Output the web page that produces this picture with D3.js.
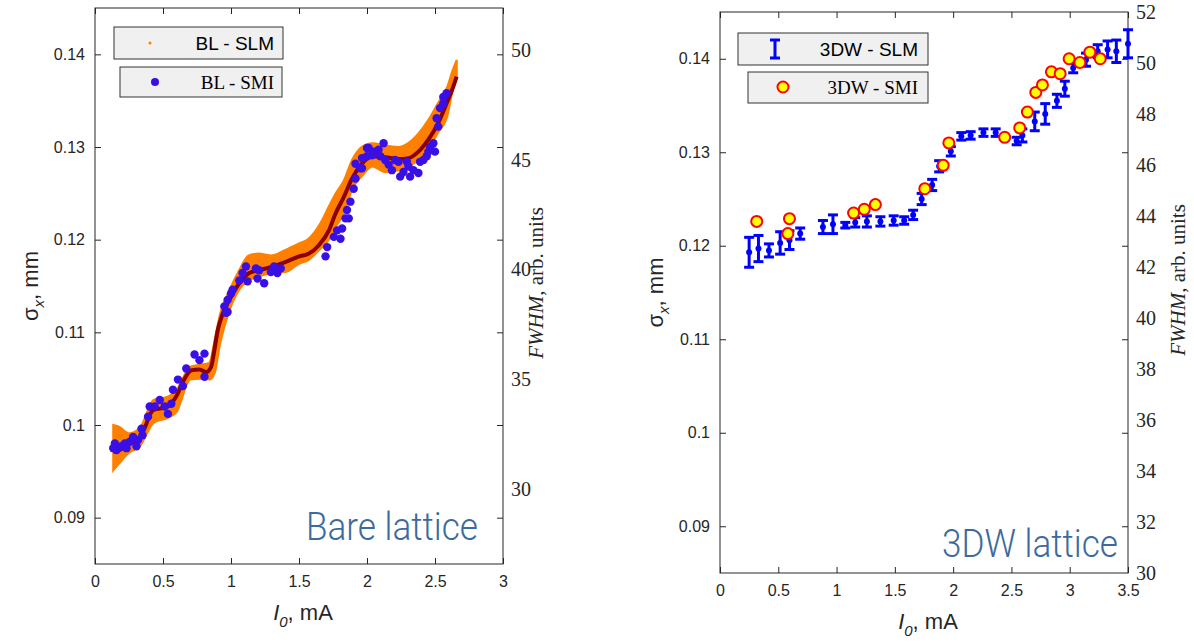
<!DOCTYPE html>
<html>
<head>
<meta charset="utf-8">
<script src="https://cdn.jsdelivr.net/npm/d3@7"></script>
<style>
  body { margin: 0; background: #fff; }
  svg { display: block; }
  .tick text { fill: #262626; }
</style>
</head>
<body>
<div id="chart"></div>
<script>
// ---- left panel: bare lattice ----
// SLM band (orange): x, upper and lower edge of the cloud
const slmX  = [0.134,0.18,0.25,0.33,0.43,0.54,0.6,0.7,0.77,0.84,0.88,0.92,0.99,1.06,1.13,1.2,1.3,1.4,1.5,1.57,1.65,1.72,1.77,1.83,1.89,1.96,2.04,2.13,2.23,2.3,2.38,2.45,2.52,2.59,2.63,2.66];
const slmHi = [0.1000,0.0998,0.0991,0.0997,0.1027,0.1031,0.1038,0.1063,0.1065,0.1067,0.1092,0.1120,0.1146,0.1167,0.1183,0.1185,0.1183,0.1189,0.1196,0.1201,0.1216,0.1236,0.1250,0.1264,0.1286,0.1300,0.1304,0.1302,0.1300,0.1304,0.1315,0.1329,0.1347,0.1365,0.1383,0.1394];
const slmLo = [0.0951,0.0959,0.0970,0.0977,0.1002,0.1008,0.1014,0.1049,0.1050,0.1049,0.1056,0.1088,0.1124,0.1146,0.1156,0.1160,0.1164,0.1165,0.1174,0.1178,0.1189,0.1200,0.1214,0.1228,0.1254,0.1268,0.1279,0.1273,0.1275,0.1279,0.1286,0.1297,0.1315,0.1333,0.1361,0.1376];

// fitted curve (dark red)
const fitX = [0.134,0.183,0.256,0.33,0.354,0.427,0.488,0.537,0.598,0.659,0.707,0.768,0.817,0.854,0.878,0.902,0.939,0.988,1.061,1.134,1.207,1.305,1.403,1.5,1.573,1.646,1.72,1.768,1.829,1.89,1.963,2.036,2.134,2.232,2.305,2.378,2.451,2.524,2.585,2.634,2.659];
const fitY = [0.0971,0.0973,0.0980,0.0987,0.0993,0.1016,0.1018,0.1020,0.1031,0.1050,0.1059,0.1060,0.1057,0.1063,0.1081,0.1102,0.1120,0.1135,0.1153,0.1164,0.1167,0.1171,0.1176,0.1182,0.1185,0.1194,0.1210,0.1228,0.1246,0.1266,0.1282,0.1290,0.1289,0.1287,0.1288,0.1295,0.1308,0.1326,0.1347,0.1365,0.1376];

// SMI points (blue)
const smiX = [0.134,0.146,0.159,0.195,0.22,0.232,0.256,0.28,0.305,0.317,0.342,0.349,0.39,0.402,0.439,0.476,0.512,0.536,0.561,0.573,0.61,0.646,0.671,0.732,0.768,0.805,0.805,0.951,0.964,0.975,0.975,1.0,1.012,1.061,1.085,1.11,1.122,1.183,1.195,1.207,1.244,1.293,1.317,1.341,1.366,1.695,1.707,1.756,1.78,1.805,1.817,1.842,1.853,1.866,1.878,1.902,1.915,1.915,1.951,1.963,1.963,2.0,2.0,2.012,2.036,2.049,2.085,2.098,2.122,2.134,2.159,2.183,2.207,2.232,2.244,2.268,2.293,2.305,2.317,2.341,2.378,2.39,2.415,2.439,2.451,2.464,2.488,2.5,2.512,2.524,2.537,2.561,2.561,2.585];
const smiY = [0.0975,0.0980,0.0973,0.0977,0.0980,0.0975,0.0982,0.0987,0.0977,0.0984,0.0996,0.0989,0.1009,0.1020,0.1020,0.1027,0.1020,0.1012,0.1023,0.1038,0.1049,0.1042,0.1061,0.1076,0.1070,0.1077,0.1052,0.1128,0.1121,0.1122,0.1135,0.1142,0.1146,0.1156,0.1164,0.1171,0.1155,0.1169,0.1158,0.1167,0.1153,0.1165,0.1171,0.1164,0.1169,0.1182,0.1192,0.1203,0.1210,0.1201,0.1212,0.1223,0.1232,0.1223,0.1241,0.1255,0.1266,0.1282,0.1277,0.1288,0.1277,0.1299,0.1290,0.1299,0.1291,0.1295,0.1297,0.1290,0.1304,0.1286,0.1281,0.1275,0.1286,0.1284,0.1268,0.1273,0.1284,0.1279,0.1268,0.1275,0.1272,0.1284,0.1286,0.1290,0.1295,0.1300,0.1304,0.1295,0.1331,0.1322,0.1342,0.1347,0.1354,0.1358];

const xTicksL = [0,0.5,1,1.5,2,2.5,3];
const yTicks = [0.09,0.1,0.11,0.12,0.13,0.14];
const fwhmTicksL = [30,35,40,45,50];

// ---- right panel: 3DW lattice ----
const slm3X = [0.25,0.33,0.42,0.516,0.596,0.688,0.883,0.969,1.075,1.16,1.26,1.376,1.49,1.58,1.657,1.73,1.82,1.88,1.98,2.07,2.15,2.26,2.365,2.545,2.594,2.70,2.79,2.89,2.958,3.03,3.14,3.24,3.325,3.40,3.5];
const slm3Y = [0.1193,0.1197,0.1195,0.1203,0.1206,0.1213,0.1220,0.1223,0.1222,0.1225,0.1226,0.1226,0.1227,0.1227,0.1233,0.1250,0.1265,0.1285,0.1301,0.1317,0.1318,0.1321,0.1321,0.1312,0.1318,0.1333,0.1341,0.1355,0.1368,0.1390,0.1399,0.1408,0.1410,0.1408,0.1416];
const slm3E = [0.0016,0.0014,0.0007,0.0012,0.0010,0.0006,0.0007,0.0010,0.0003,0.0005,0.0006,0.0005,0.0005,0.0004,0.0005,0.0006,0.0006,0.0006,0.0005,0.0004,0.0004,0.0004,0.0004,0.0004,0.0007,0.0010,0.0011,0.0007,0.0008,0.0005,0.0007,0.0007,0.0009,0.0012,0.0015];

const smi3X = [0.315,0.596,0.582,1.146,1.238,1.333,1.757,1.915,1.963,2.442,2.571,2.637,2.709,2.766,2.843,2.918,2.995,3.087,3.173,3.262];
const smi3Y = [0.1226,0.1229,0.1213,0.1235,0.1239,0.1244,0.1261,0.1286,0.1310,0.1316,0.1326,0.1343,0.1364,0.1372,0.1386,0.1384,0.1400,0.1396,0.1407,0.1400];

const xTicksR = [0,0.5,1,1.5,2,2.5,3,3.5];
const fwhmTicksR = [30,32,34,36,38,40,42,44,46,48,50,52];

const w = 1194, h = 644;
const sans = "'Liberation Sans', Arial, sans-serif";
const serif = "'Liberation Serif', 'Times New Roman', serif";
const axisCol = "#262626";

let svg = d3.select("#chart").append("svg").attr("width", w).attr("height", h);

function panel(o) {
    let x = d3.scaleLinear().domain(o.xDom).range([o.left, o.right]);
    let y = d3.scaleLinear().domain([0.085, 0.145]).range([o.bottom, o.top]);
    let y2 = d3.scaleLinear().domain(o.fDom).range([o.bottom, o.top]);
    let g = svg.append("g");
    let fmt = d3.format("~g");

    // bottom + top ticks
    let bx = g.append("g").attr("transform", `translate(0,${o.bottom})`)
        .call(d3.axisBottom(x).tickValues(o.xTicks).tickSize(-6).tickSizeOuter(0).tickPadding(12).tickFormat(fmt));
    g.append("g").attr("transform", `translate(0,${o.top})`)
        .call(d3.axisTop(x).tickValues(o.xTicks).tickSize(-6).tickSizeOuter(0).tickFormat(""));
    // left axis and mirrored ticks
    let ly = g.append("g").attr("transform", `translate(${o.left},0)`)
        .call(d3.axisLeft(y).tickValues(yTicks).tickSize(-6).tickSizeOuter(0).tickPadding(10).tickFormat(fmt));
    g.append("g").attr("transform", `translate(${o.right},0)`)
        .call(d3.axisRight(y).tickValues(yTicks).tickSize(-6).tickSizeOuter(0).tickFormat(""));
    // right FWHM axis labels
    let ry = g.append("g").attr("transform", `translate(${o.right},0)`)
        .call(d3.axisRight(y2).tickValues(o.fTicks).tickSize(0).tickSizeOuter(0).tickPadding(8));
    ry.selectAll("text").style("font-family", serif).style("font-size", "20px");

    [bx, ly].forEach(a => a.selectAll("text").style("font-family", sans).style("font-size", "16px"));
    g.selectAll(".domain").remove();
    g.selectAll(".tick line").attr("stroke", axisCol);

    g.append("rect").attr("x", o.left).attr("y", o.top)
        .attr("width", o.right - o.left).attr("height", o.bottom - o.top)
        .attr("fill", "none").attr("stroke", axisCol).attr("stroke-width", 1);

    // axis titles
    let xl = g.append("text").attr("x", (o.left + o.right) / 2 + 4).attr("y", o.bottom + 56)
        .attr("text-anchor", "middle").style("font-family", sans).style("font-size", "22px").attr("fill", axisCol);
    xl.append("tspan").style("font-style", "italic").text("I");
    xl.append("tspan").style("font-style", "italic").style("font-size", "15px").attr("dy", 7).text("0");
    xl.append("tspan").attr("dy", -7).text(", mA");

    let yl = g.append("text").attr("transform", `translate(${o.left - 57},${(o.top + o.bottom) / 2}) rotate(-90)`)
        .attr("text-anchor", "middle").style("font-family", sans).style("font-size", "22px").attr("fill", axisCol);
    yl.append("tspan").text("σ");
    yl.append("tspan").style("font-size", "15px").style("font-style", "italic").attr("dy", 6).text("x");
    yl.append("tspan").attr("dy", -6).text(", mm");

    let fl = g.append("text").attr("transform", `translate(${o.right + o.fOff},${o.fMid}) rotate(-90)`)
        .attr("text-anchor", "middle").style("font-family", serif).style("font-size", "21px").attr("fill", axisCol);
    fl.append("tspan").style("font-style", "italic").text("FWHM");
    fl.append("tspan").text(",  arb. units");

    return {g, x, y};
}

// ---------- left ----------
let L = panel({left: 95, right: 503, top: 8, bottom: 564, xDom: [0, 3], xTicks: xTicksL,
    fDom: [26.58, 51.91], fTicks: fwhmTicksL, fOff: 40, fMid: 283});

L.g.append("path")
    .datum(slmX.map((d, i) => [d, slmHi[i], slmLo[i]]))
    .attr("fill", "#ff8000")
    .attr("stroke", "#ff8000").attr("stroke-width", 2)
    .attr("d", d3.area().curve(d3.curveMonotoneX)
        .x(d => L.x(d[0])).y0(d => L.y(d[2])).y1(d => L.y(d[1])));

L.g.append("path")
    .datum(fitX.map((d, i) => [d, fitY[i]]))
    .attr("fill", "none").attr("stroke", "#8c0000").attr("stroke-width", 4)
    .attr("d", d3.line().curve(d3.curveMonotoneX).x(d => L.x(d[0])).y(d => L.y(d[1])));

L.g.append("g").selectAll("circle")
    .data(smiX.map((d, i) => [d, smiY[i]]))
    .enter().append("circle")
    .attr("cx", d => L.x(d[0])).attr("cy", d => L.y(d[1])).attr("r", 4.2)
    .attr("fill", "#3a0fe6");

// legend
function legBox(x0, y0, bw, bh) {
    svg.append("rect").attr("x", x0).attr("y", y0).attr("width", bw).attr("height", bh)
        .attr("fill", "#f0f0f0").attr("stroke", "#333").attr("stroke-width", 1);
}
legBox(114, 27, 169, 32);
svg.append("circle").attr("cx", 150).attr("cy", 43).attr("r", 1.5).attr("fill", "#ff8000");
svg.append("text").attr("x", 274).attr("y", 50).attr("text-anchor", "end")
    .style("font-family", sans).style("font-size", "19px").text("BL - SLM");
legBox(120, 67, 162, 30);
svg.append("circle").attr("cx", 155).attr("cy", 82).attr("r", 4).attr("fill", "#3a0fe6");
svg.append("text").attr("x", 274).attr("y", 89).attr("text-anchor", "end")
    .style("font-family", serif).style("font-size", "19px").text("BL - SMI");

svg.append("text").attr("x", 306).attr("y", 540)
    .attr("textLength", 172).attr("lengthAdjust", "spacingAndGlyphs")
    .style("font-family", "Roboto, sans-serif").style("font-weight", 300).style("font-size", "38px")
    .attr("fill", "#3d6a9e").text("Bare lattice");

// ---------- right ----------
let R = panel({left: 720, right: 1128, top: 12, bottom: 573, xDom: [0, 3.5], xTicks: xTicksR,
    fDom: [30, 52], fTicks: fwhmTicksR, fOff: 57, fMid: 280});

let eb = R.g.append("g").attr("stroke", "#0000ff").attr("stroke-width", 3);
slm3X.forEach((d, i) => {
    let cx = R.x(d), y1 = R.y(slm3Y[i] + slm3E[i]), y0 = R.y(slm3Y[i] - slm3E[i]);
    eb.append("line").attr("x1", cx).attr("x2", cx).attr("y1", y1).attr("y2", y0);
    eb.append("line").attr("x1", cx - 5).attr("x2", cx + 5).attr("y1", y1).attr("y2", y1);
    eb.append("line").attr("x1", cx - 5).attr("x2", cx + 5).attr("y1", y0).attr("y2", y0);
    R.g.append("circle").attr("cx", cx).attr("cy", R.y(slm3Y[i])).attr("r", 3).attr("fill", "#0000ff");
});

R.g.append("g").selectAll("circle")
    .data(smi3X.map((d, i) => [d, smi3Y[i]]))
    .enter().append("circle")
    .attr("cx", d => R.x(d[0])).attr("cy", d => R.y(d[1])).attr("r", 5.5)
    .attr("fill", "#ffff00").attr("stroke", "#ff0000").attr("stroke-width", 2);

legBox(738, 33, 190, 32);
svg.append("g").attr("stroke", "#0000ff").attr("stroke-width", 3).call(s => {
    s.append("line").attr("x1", 775).attr("x2", 775).attr("y1", 40).attr("y2", 58);
    s.append("line").attr("x1", 770).attr("x2", 780).attr("y1", 40).attr("y2", 40);
    s.append("line").attr("x1", 770).attr("x2", 780).attr("y1", 58).attr("y2", 58);
});
svg.append("text").attr("x", 918).attr("y", 56).attr("text-anchor", "end")
    .style("font-family", sans).style("font-size", "19px").text("3DW - SLM");
legBox(748, 72, 180, 31);
svg.append("circle").attr("cx", 783).attr("cy", 87).attr("r", 5.5)
    .attr("fill", "#ffff00").attr("stroke", "#ff0000").attr("stroke-width", 2);
svg.append("text").attr("x", 918).attr("y", 94).attr("text-anchor", "end")
    .style("font-family", serif).style("font-size", "19px").text("3DW - SMI");

svg.append("text").attr("x", 942).attr("y", 557)
    .attr("textLength", 176).attr("lengthAdjust", "spacingAndGlyphs")
    .style("font-family", "Roboto, sans-serif").style("font-weight", 300).style("font-size", "38px")
    .attr("fill", "#3d6a9e").text("3DW lattice");
</script>
</body>
</html>
